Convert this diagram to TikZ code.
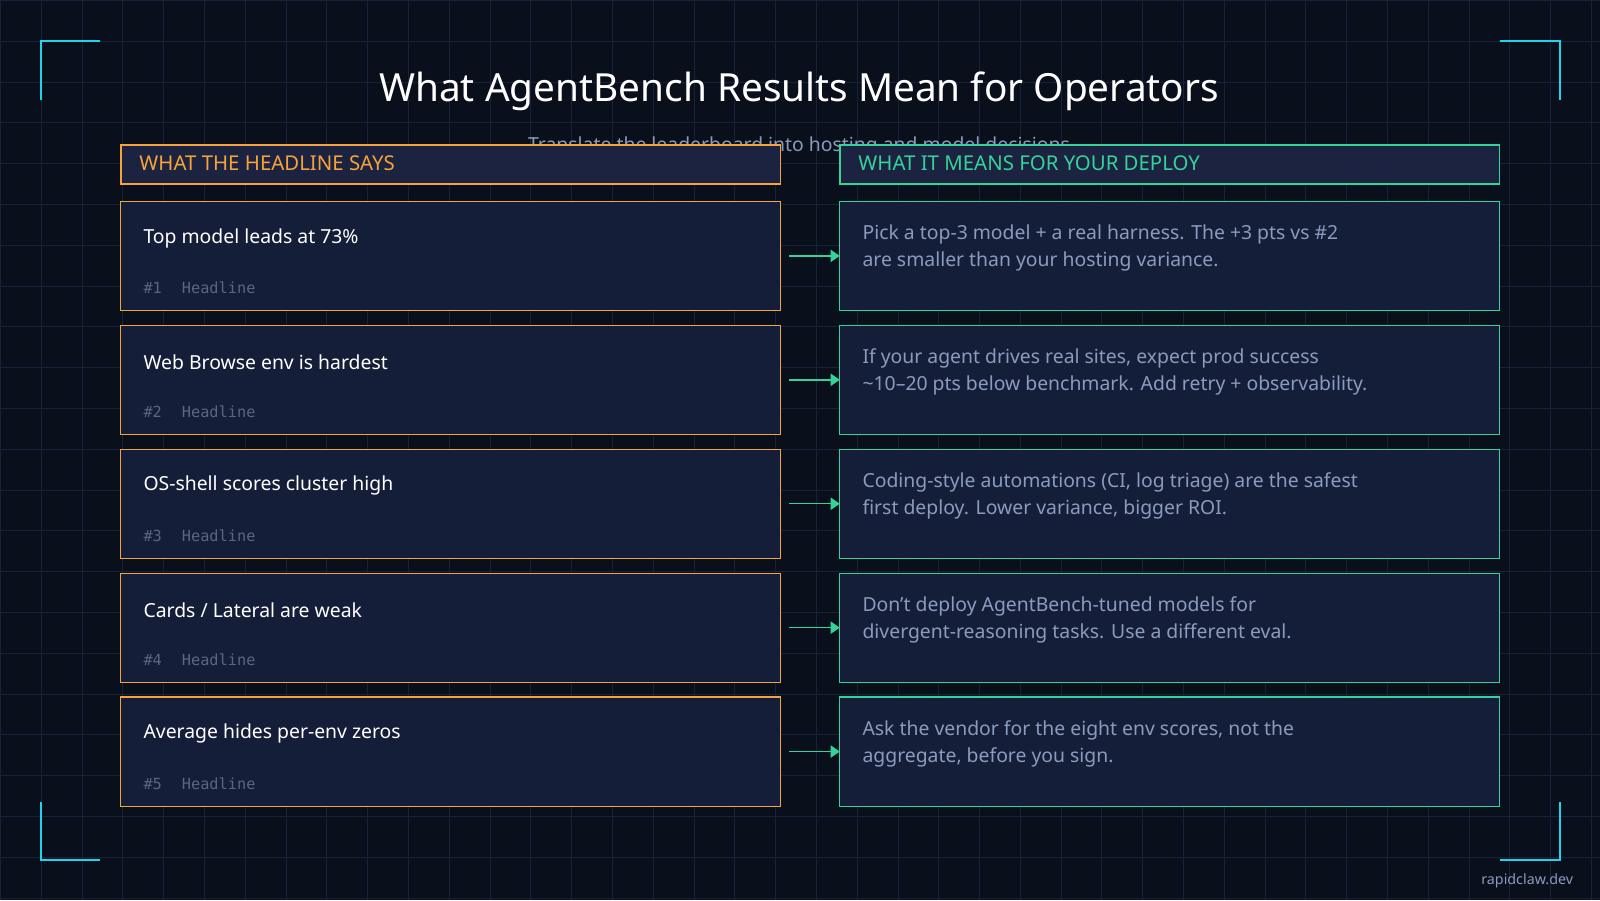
\documentclass[tikz,border=0pt]{standalone}
\usepackage{fontspec}
\setmainfont{Noto Sans}
\setmonofont{DejaVu Sans Mono}
\usetikzlibrary{positioning}
\usetikzlibrary{arrows.meta}
\definecolor{bgdark}{HTML}{0A0F1C}
\definecolor{gridline}{HTML}{16213A}
\definecolor{cardfill}{HTML}{151E38}
\definecolor{headfill}{HTML}{1B2340}
\definecolor{myorange}{HTML}{F5A33A}
\definecolor{myteal}{HTML}{34D399}
\definecolor{mycyan}{HTML}{22D3EE}
\definecolor{softtext}{HTML}{8B9BBD}
\definecolor{dimtext}{HTML}{5A6580}
\begin{document}
\begin{tikzpicture}[x=1pt,y=-1pt,outer sep=0pt,
headbox/.style={
  draw=myorange,
  line width=1.6pt,
  fill=headfill,
  minimum width=647pt,
  minimum height=38pt,
  anchor=north west},
sayscard/.style={
  draw=myorange,
  line width=1pt,
  fill=cardfill,
  minimum width=647pt,
  minimum height=107pt,
  anchor=north west},
meanscard/.style={sayscard,draw=myteal},
cardtitle/.style={anchor=west,font=\fontsize{19}{22}\selectfont,text=white},
cardtag/.style={anchor=west,font=\ttfamily\fontsize{15}{18}\selectfont,text=dimtext},
cardnote/.style={anchor=north west,align=left,font=\fontsize{19}{26}\selectfont,text=softtext},
corner/.style={draw=mycyan,line width=1.6pt},
]
% background and grid
\fill[bgdark] (0,0) rectangle (1568,882);
\foreach \gx in {0,40,...,1560} \draw[gridline,line width=0.8pt] (\gx,0) -- (\gx,882);
\foreach \gy in {0,40,...,880} \draw[gridline,line width=0.8pt] (0,\gy) -- (1568,\gy);
\useasboundingbox (0,0) rectangle (1568,882);

% corner marks
\draw[corner] (40,98) -- (40,40) -- (98,40);
\draw[corner] (1470,40) -- (1529,40) -- (1529,98);
\draw[corner] (40,786) -- (40,843) -- (98,843);
\draw[corner] (1470,843) -- (1529,843) -- (1529,786);

% title
\node[text=white,font=\fontsize{38}{42}\selectfont] (title) at (783,89) {What AgentBench Results Mean for Operators};
\node[text=softtext,font=\fontsize{19}{22}\selectfont] (subtitle) at (783,143) {Translate the leaderboard into hosting and model decisions};

% column headers
\node[headbox] (sayshead) at (118,142) {};
\node[anchor=west,text=myorange,font=\fontsize{20}{24}\selectfont] at ([xshift=15pt,yshift=1pt]sayshead.west) {WHAT THE HEADLINE SAYS};
\node[headbox,draw=myteal] (meanshead) at (823,142) {};
\node[anchor=west,text=myteal,font=\fontsize{20}{24}\selectfont] at ([xshift=15pt,yshift=1pt]meanshead.west) {WHAT IT MEANS FOR YOUR DEPLOY};

% rows
\foreach \i/\ty/\say/\mean in {
  1/197/{Top model leads at 73\%}/{Pick a top-3 model + a real harness. The +3 pts vs \#2\\are smaller than your hosting variance.},
  2/318.5/{Web Browse env is hardest}/{If your agent drives real sites, expect prod success\\\textasciitilde10–20 pts below benchmark. Add retry + observability.},
  3/440/{OS-shell scores cluster high}/{Coding-style automations (CI, log triage) are the safest\\first deploy. Lower variance, bigger ROI.},
  4/561.5/{Cards / Lateral are weak}/{Don't deploy AgentBench-tuned models for\\divergent-reasoning tasks. Use a different eval.},
  5/683/{Average hides per-env zeros}/{Ask the vendor for the eight env scores, not the\\aggregate, before you sign.}} {
  \node[sayscard] (says\i) at (118,\ty) {};
  \node[cardtitle] at ([xshift=19pt,yshift=-36pt]says\i.north west) {\say};
  \node[cardtag] at ([xshift=19pt,yshift=-85pt]says\i.north west) {\#\i\hspace{1.3em}Headline};
  \node[meanscard] (means\i) at (823,\ty) {};
  \node[cardnote] at ([xshift=19pt,yshift=-20pt]means\i.north west) {\mean};
  \draw[myteal,line width=1.5pt,-{Triangle[length=9pt,width=12pt]}] ([xshift=8pt]says\i.east) -- (means\i.west);
}

% footer
\node[text=softtext,font=\fontsize{14}{16}\selectfont] (site) at (1497,863) {rapidclaw.dev};
\end{tikzpicture}
\end{document}
